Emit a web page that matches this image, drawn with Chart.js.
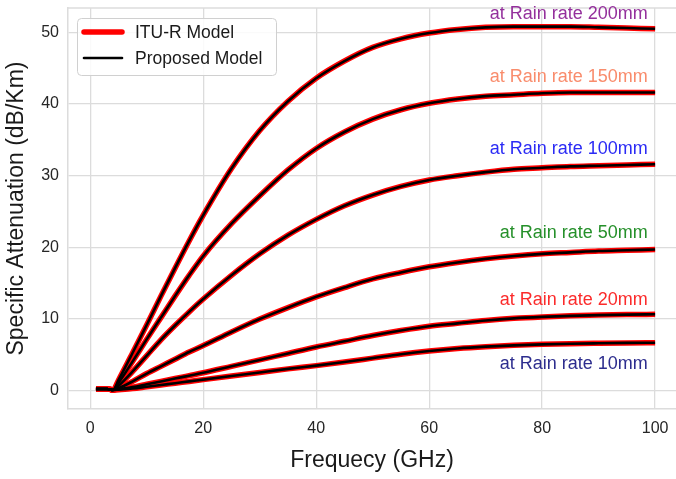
<!DOCTYPE html>
<html>
<head>
<meta charset="utf-8">
<script src="https://cdn.jsdelivr.net/npm/chart.js@4.4.1/dist/chart.umd.min.js"></script>
<style>
  body { margin: 0; background: #fff; }
  #wrap { width: 676px; height: 479px; position: relative; }
</style>
</head>
<body>
<div id="wrap"><canvas id="rain"></canvas></div>
<script>
Chart.defaults.font.family = '"Liberation Sans", Arial, sans-serif';

// frequency in GHz
const freq = [1, 2, 3, 4, 5, 7.5, 10, 12.5, 15, 17.5, 20, 25, 30, 35, 40, 45, 50, 55, 60, 65, 70, 75, 80, 85, 90, 95, 100];

// specific attenuation (dB/Km) for each rain rate
const rain200 = [0.25, 0.25, 0.25, 0.1, 1.5, 5.3, 9.2, 13.2, 17.1, 20.9, 24.5, 31, 36.3, 40.4, 43.6, 46, 47.9, 49.1, 49.9, 50.4, 50.7, 50.8, 50.8, 50.8, 50.7, 50.6, 50.5];
const rain150 = [0.25, 0.25, 0.25, 0.1, 1.1, 4.1, 7.2, 10.2, 13.2, 16.1, 18.8, 23.3, 27.2, 30.8, 33.8, 36.1, 37.9, 39.2, 40.1, 40.7, 41.1, 41.3, 41.5, 41.6, 41.6, 41.6, 41.6];
const rain100 = [0.25, 0.25, 0.25, 0.1, 0.7, 2.7, 4.9, 7.1, 9.1, 11, 12.8, 16.1, 19.1, 21.7, 23.9, 25.8, 27.3, 28.5, 29.4, 30, 30.5, 30.9, 31.1, 31.3, 31.4, 31.5, 31.6];
const rain50 = [0.25, 0.25, 0.25, 0.1, 0.35, 1.3, 2.4, 3.4, 4.4, 5.4, 6.3, 8.2, 10, 11.6, 13.1, 14.4, 15.6, 16.5, 17.3, 17.9, 18.4, 18.8, 19.1, 19.3, 19.5, 19.6, 19.7];
const rain20 = [0.25, 0.25, 0.25, 0.1, 0.2, 0.5, 0.9, 1.3, 1.7, 2.1, 2.5, 3.4, 4.3, 5.2, 6.1, 6.9, 7.7, 8.4, 9, 9.4, 9.8, 10.1, 10.3, 10.45, 10.55, 10.62, 10.66];
const rain10 = [0.25, 0.25, 0.25, 0.1, 0.15, 0.3, 0.55, 0.8, 1.05, 1.3, 1.55, 2.05, 2.55, 3.05, 3.5, 4, 4.55, 5.1, 5.55, 5.9, 6.15, 6.33, 6.47, 6.56, 6.62, 6.67, 6.7];

const rainSeries = [rain200, rain150, rain100, rain50, rain20, rain10];
const rainLabels = ['at Rain rate 200mm', 'at Rain rate 150mm', 'at Rain rate 100mm', 'at Rain rate 50mm', 'at Rain rate 20mm', 'at Rain rate 10mm'];
const rainColors = ['#94309c', '#f98c6c', '#2b2bf5', '#25902a', '#fb2b2b', '#2d2d8e'];
// where each label sits (data coords, right aligned)
const labelX = [98.7, 98.7, 98.7, 98.7, 98.7, 98.7];
const labelY = [52.6, 43.7, 33.7, 22.0, 12.65, 3.7];

const xTicks = [0, 20, 40, 60, 80, 100];
const yTicks = [0, 10, 20, 30, 40, 50];

const pts = arr => arr.map((v, i) => ({ x: freq[i], y: v }));

const datasets = [];
rainSeries.forEach((s, i) => {
    datasets.push({
        label: 'Proposed Model',
        data: pts(s),
        borderColor: '#000000',
        borderWidth: 2.6,
        pointRadius: 0,
        cubicInterpolationMode: 'monotone',
        order: 0
    });
    datasets.push({
        label: 'ITU-R Model',
        data: pts(s),
        borderColor: '#ff0000',
        borderWidth: 5.5,
        pointRadius: 0,
        cubicInterpolationMode: 'monotone',
        order: 1
    });
});

// top edge of the frame (seaborn style box)
const frameTop = {
    id: 'frameTop',
    beforeDatasetsDraw(c) {
        const { ctx, chartArea } = c;
        ctx.save();
        ctx.strokeStyle = '#dcdcdc';
        ctx.lineWidth = 1.5;
        ctx.beginPath();
        ctx.moveTo(chartArea.left, chartArea.top);
        ctx.lineTo(chartArea.right, chartArea.top);
        ctx.stroke();
        ctx.restore();
    }
};

const rateLabels = {
    id: 'rateLabels',
    afterDatasetsDraw(c) {
        const ctx = c.ctx;
        const xs = c.scales.x, ys = c.scales.y;
        ctx.save();
        ctx.font = '18px "Liberation Sans", Arial, sans-serif';
        ctx.textAlign = 'right';
        ctx.textBaseline = 'middle';
        rainLabels.forEach((t, i) => {
            ctx.fillStyle = rainColors[i];
            ctx.fillText(t, xs.getPixelForValue(labelX[i]), ys.getPixelForValue(labelY[i]));
        });
        ctx.restore();
    }
};

const boxLegend = {
    id: 'boxLegend',
    afterDraw(c) {
        const ctx = c.ctx;
        ctx.save();
        ctx.fillStyle = 'rgba(255,255,255,0.85)';
        ctx.strokeStyle = '#d0d0d0';
        ctx.lineWidth = 1;
        ctx.beginPath();
        ctx.roundRect(77.5, 18.5, 199, 57, 4);
        ctx.fill();
        ctx.stroke();
        ctx.lineCap = 'round';
        ctx.strokeStyle = '#ff0000';
        ctx.lineWidth = 5.5;
        ctx.beginPath(); ctx.moveTo(84, 32); ctx.lineTo(122, 32); ctx.stroke();
        ctx.strokeStyle = '#000000';
        ctx.lineWidth = 2.6;
        ctx.beginPath(); ctx.moveTo(84, 58); ctx.lineTo(122, 58); ctx.stroke();
        ctx.fillStyle = '#1a1a1a';
        ctx.font = '17.5px "Liberation Sans", Arial, sans-serif';
        ctx.textBaseline = 'middle';
        ctx.fillText('ITU-R Model', 135, 33);
        ctx.fillText('Proposed Model', 135, 59);
        ctx.restore();
    }
};

const gridStyle = { color: '#dcdcdc', lineWidth: 1.3, drawTicks: false };
const borderStyle = { color: '#dcdcdc', width: 1.5 };

new Chart(document.getElementById('rain'), {
    type: 'line',
    data: { datasets: datasets },
    options: {
        responsive: true,
        maintainAspectRatio: false,
        animation: false,
        layout: { padding: { top: 8, right: 0, left: 0, bottom: 0 } },
        plugins: {
            legend: { display: false },
            tooltip: { enabled: false }
        },
        scales: {
            x: {
                type: 'linear',
                min: -3.95,
                max: 103.7,
                afterBuildTicks: s => { s.ticks = xTicks.map(v => ({ value: v })); },
                afterFit: s => { s.height = 70; s.paddingLeft = 0; s.paddingRight = 0; },
                grid: gridStyle,
                border: borderStyle,
                ticks: { color: '#262626', font: { size: 16 }, padding: 10 },
                title: {
                    display: true,
                    text: 'Frequecy (GHz)',
                    color: '#1a1a1a',
                    font: { size: 23 },
                    padding: { top: 0, bottom: 5 }
                }
            },
            y: {
                type: 'linear',
                min: -2.55,
                max: 53.4,
                afterBuildTicks: s => { s.ticks = yTicks.map(v => ({ value: v })); },
                afterFit: s => { s.width = 68; s.paddingTop = 0; s.paddingBottom = 0; },
                grid: gridStyle,
                border: borderStyle,
                ticks: { color: '#262626', font: { size: 16 }, padding: 9 },
                title: {
                    display: true,
                    text: 'Specific Attenuation (dB/Km)',
                    color: '#1a1a1a',
                    font: { size: 23 },
                    padding: { top: 3, bottom: 0 }
                }
            }
        }
    },
    plugins: [frameTop, rateLabels, boxLegend]
});
</script>
</body>
</html>
